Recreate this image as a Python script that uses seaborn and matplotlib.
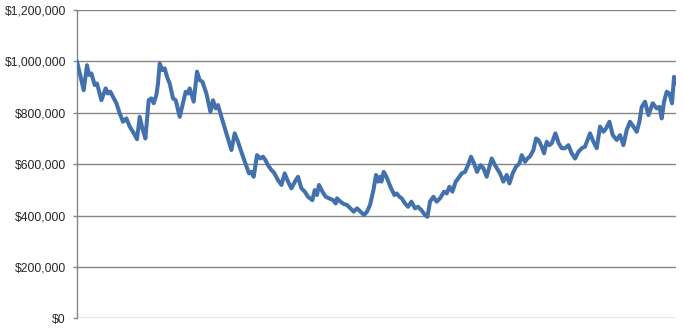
import matplotlib
matplotlib.use("Agg")
import matplotlib.pyplot as plt
import matplotlib.ticker as mticker
import seaborn as sns
import pandas as pd

# Trading step index and portfolio value (in $ thousands)
steps = [0, 3, 6.7, 10, 12, 14.4, 17.7, 20, 24.4, 28.7, 31, 33.4, 36, 39.4, 42.7, 46,
         49.4, 52.7, 56, 60, 62.7, 65.4, 68.4, 71.7, 74.4, 76.7, 79.4, 81, 82.7, 85.4,
         87.7, 90, 92.7, 96, 98.7, 102.7, 106, 108.7, 111, 112.7, 116.7, 120, 122.7,
         125.4, 129.4, 133.4, 136, 138.7, 141, 144.4, 149.4, 154.4, 157.7, 161, 166,
         172, 174.4, 176.7, 180, 183.4, 186, 188.4, 191, 194.4, 197, 201, 204.4, 207.7,
         211, 214.4, 218, 221, 224.4, 227.7, 231, 235.4, 237.7, 240, 242, 245.4, 248.7,
         252, 256, 258.7, 260, 263.4, 266.7, 270, 273.4, 276.7, 280, 283.4, 287, 290,
         293, 296.4, 299, 301, 303, 304.4, 306.7, 309.4, 313.4, 317.4, 319.7, 322.4,
         324.7, 328, 331, 334.4, 338, 341, 344.4, 348, 350.4, 353, 356.4, 359.7, 363,
         367, 369.7, 372.4, 375.4, 378.7, 382.4, 384.7, 388, 391, 394, 397, 400, 403.4,
         406.4, 409.7, 414.7, 418, 423, 426.4, 429.7, 432.4, 435.7, 439, 442.4, 444.7,
         448, 450.4, 453, 456.4, 459, 461.4, 464.7, 467, 469.7, 472.4, 474.7, 478.4,
         481.7, 484.7, 488, 491.4, 494.7, 498, 501.4, 504.7, 508, 513, 516.4, 519.7,
         523, 526.4, 529, 532.4, 535.7, 539.7, 543, 546.4, 549.7, 553, 556.4, 559.7,
         562.4, 564.7, 568, 571.4, 575.7, 579.7, 582.4, 584.7, 587, 589.7, 592.4, 595,
         597, 599]
values_k = [1000, 950, 888, 985, 947, 953, 908, 914, 849, 895, 875, 882, 862, 837,
            798, 765, 778, 746, 726, 697, 784, 739, 700, 849, 856, 837, 869, 914, 992,
            966, 973, 940, 914, 856, 849, 784, 837, 882, 875, 895, 843, 960, 927, 921,
            875, 804, 849, 817, 830, 784, 720, 655, 720, 687, 629, 564, 570, 551, 635,
            622, 629, 616, 596, 577, 567, 538, 519, 564, 532, 506, 532, 551, 506, 493,
            473, 460, 499, 480, 519, 493, 473, 467, 460, 447, 467, 454, 445, 441, 428,
            415, 428, 415, 402, 415, 441, 499, 558, 532, 551, 532, 570, 551, 512, 480,
            486, 473, 467, 447, 434, 454, 428, 434, 421, 402, 395, 454, 473, 454, 467,
            493, 486, 512, 493, 532, 551, 564, 570, 596, 629, 603, 570, 596, 584, 551,
            622, 596, 564, 532, 558, 525, 564, 590, 603, 635, 609, 622, 630, 655, 700,
            694, 668, 642, 687, 674, 681, 720, 681, 662, 662, 674, 642, 622, 648, 662,
            668, 720, 687, 662, 746, 726, 739, 765, 713, 694, 713, 674, 733, 765, 746,
            726, 765, 823, 843, 791, 837, 817, 823, 778, 843, 882, 875, 837, 940, 914]

y_ticks = [0, 200000, 400000, 600000, 800000, 1000000, 1200000]

df = pd.DataFrame({"step": steps, "value": [v * 1000 for v in values_k]})

sns.set_theme(style="white")
plt.rcParams["font.family"] = ["Liberation Sans", "DejaVu Sans"]

fig = plt.figure(figsize=(6.85, 3.29), dpi=100)
ax = fig.add_axes([0.1124, 0.0325, 0.8745, 0.9371])

sns.lineplot(data=df, x="step", y="value", ax=ax, color="#4371AE",
             linewidth=2.9, estimator=None, sort=False, zorder=3)

ax.set_xlim(0, 599)
ax.set_ylim(0, 1200000)
ax.set_yticks(y_ticks)
ax.yaxis.set_major_formatter(mticker.FuncFormatter(lambda v, p: "${:,.0f}".format(v)))
ax.set_xticks([])
ax.set_xlabel("")
ax.set_ylabel("")
ax.grid(axis="y", color="#868686", linewidth=1.0)
ax.set_axisbelow(True)

for side in ["top", "right", "bottom"]:
    ax.spines[side].set_visible(False)
ax.spines["left"].set_color("#868686")
ax.spines["left"].set_linewidth(1.0)
ax.tick_params(axis="y", which="major", left=True, length=3, width=1.0,
               color="#868686", pad=5, labelsize=8.7, labelcolor="#262626")

fig.savefig("out.png", dpi=100)
